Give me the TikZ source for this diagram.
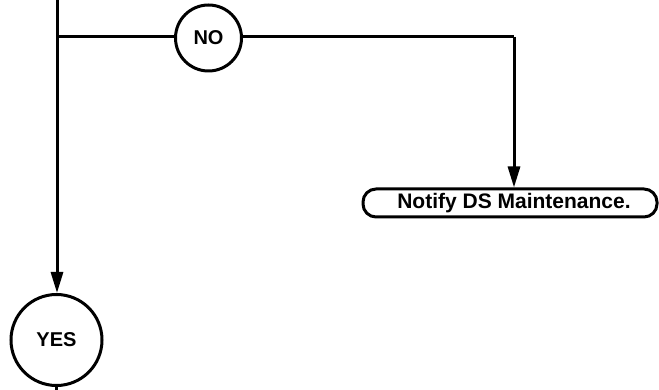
\documentclass[tikz,border=0pt]{standalone}
\usepackage{fontspec}
\setmainfont{Liberation Sans}
\usetikzlibrary{positioning, arrows.meta}
\tikzset{
  answer/.style={circle, draw=black, line width=3pt, fill=white, inner sep=0pt,
    font=\fontsize{20}{24}\selectfont\bfseries},
  action/.style={rectangle, rounded corners=13pt, draw=black, line width=3pt, fill=white,
    minimum height=28pt, minimum width=294pt, inner sep=0pt,
    font=\fontsize{21}{25}\selectfont\bfseries},
  flow/.style={-{Triangle[length=21pt, width=12pt]}, line width=3pt},
  wire/.style={line width=3pt},
}
\begin{document}
\begin{tikzpicture}[x=1pt, y=-1pt]
    \useasboundingbox (0,0) rectangle (659,390);
    % answers
    \node[answer, minimum size=66pt] (no) at (208.5,38) {NO};
    \node[answer, minimum size=91pt] (yes) at (56.5,340) {YES};
    % action
    \node[action] (notify) at (510,203) {\hspace*{8pt}Notify DS Maintenance.};
    % junctions
    \coordinate (top) at (57,0);
    \coordinate (split) at (57,37);
    \coordinate (turn) at (514,37);
    \coordinate (bottom) at (56.5,390);
    \draw[wire] (top) -- (split);
    \draw[wire] (split) -- (split -| no.west);
    \draw[flow] (split) -- (split |- yes.north);
    \draw[wire] (no.east |- turn) -- (turn);
    \draw[flow] (turn) -- (turn |- notify.north);
    \draw[wire] (yes.south) -- (bottom);
\end{tikzpicture}
\end{document}
